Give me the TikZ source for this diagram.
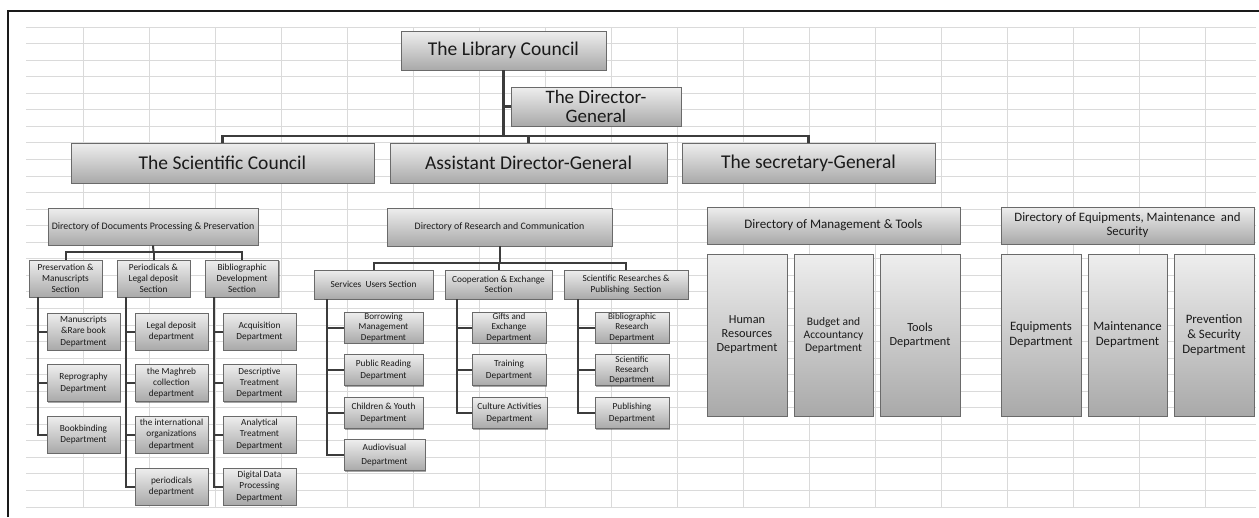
\documentclass[tikz,border=0pt]{standalone}
\usepackage{fontspec}
\setmainfont{Carlito}
\usetikzlibrary{shadows}
\definecolor{boxtop}{HTML}{EEEEEE}
\definecolor{boxbot}{HTML}{A9A9A9}
\definecolor{boxline}{HTML}{6A6A6A}
\definecolor{txt}{HTML}{1A1A1A}
\definecolor{linec}{HTML}{3C3C3C}
\definecolor{gridc}{HTML}{DADADA}
\definecolor{framec}{HTML}{1A1A1A}
\begin{document}
\begin{tikzpicture}[x=1pt,y=-1pt,
  box/.style={draw=boxline, line width=0.7pt, top color=boxtop, bottom color=boxbot,
    align=center, inner sep=0pt, text=txt,
    drop shadow={shadow xshift=1.2pt, shadow yshift=-1.2pt, opacity=0.35, fill=black}},
  bigbox/.style={box, font=\fontsize{19.5}{21}\selectfont},
  smallbox/.style={box, font=\fontsize{9.3}{11.2}\selectfont},
  dirsmall/.style={box, font=\fontsize{9.9}{11.5}\selectfont},
  midbox/.style={box, font=\fontsize{12.3}{14}\selectfont},
  conn/.style={draw=linec, line width=2.4pt},
  conntwo/.style={draw=linec, line width=2pt},
  gridline/.style={draw=gridc, line width=0.8pt},
  topsz/.style={minimum width=#1, minimum height=40},
  secL/.style={minimum width=73, minimum height=37},
  deptL/.style={minimum width=73, minimum height=37},
  secM/.style={minimum width=#1, minimum height=29},
  deptM/.style={minimum width=#1, minimum height=31},
  tall/.style={minimum width=#1, minimum height=162},
  dirbox/.style={minimum width=#1, minimum height=37}]
\useasboundingbox (0,0) rectangle (1259,517);
\fill[white] (0,0) rectangle (1259,517);
% grid
\foreach \k in {0,...,29} \draw[gridline] (26,{27+16.55*\k}) -- (1256,{27+16.55*\k});
\foreach \k in {0,...,17} \draw[gridline] ({83.5+66*\k},27) -- ({83.5+66*\k},507);
% frame
\draw[framec, line width=2.5pt] (8,517) -- (8,11) -- (1259,11);

% top level
\node[bigbox, minimum width=205, minimum height=39] (LC) at (503.5,50.5) {The Library Council};
\node[bigbox, minimum width=170, minimum height=39, font=\fontsize{19}{19.5}\selectfont] (DG) at (596,106.5) {The Director-\\General};
\node[bigbox, topsz=303] (SC) at (222.5,163) {The Scientific Council};
\node[bigbox, topsz=277] (ADG) at (528.5,163) {Assistant Director-General};
\node[bigbox, topsz=253] (SG) at (808.5,163) {The secretary-General};
\coordinate (b0) at (503.5,136);
\draw[conn] (LC.south) -- (b0);
\draw[conn] (DG.west) -- (DG.west -| LC.south);
\draw[conn] (SC.north) |- (b0);
\draw[conn] (ADG.north) |- (b0);
\draw[conn] (SG.north) |- (b0);

% left directory
\node[dirsmall, dirbox=210] (D1) at (153,226.5) {Directory of Documents Processing \& Preservation};
\node[smallbox, secL] (S11) at (65.5,278.5) {Preservation \&\\Manuscripts\\Section};
\node[smallbox, secL] (S12) at (153.5,278.5) {Periodicals \&\\Legal deposit\\Section};
\node[smallbox, secL] (S13) at (242,278.5) {Bibliographic\\Development\\Section};
\coordinate (j1) at (153.5,252);
\draw[conntwo] (D1.south) -- (j1);
\draw[conntwo] (S11.north) |- (j1);
\draw[conntwo] (S12.north) -- (j1);
\draw[conntwo] (S13.north) |- (j1);

\node[smallbox, deptL] (c11) at (83.5,331.5) {Manuscripts\\\&Rare book\\Department};
\node[smallbox, deptL] (c12) at (83.5,383) {Reprography\\Department};
\node[smallbox, deptL] (c13) at (83.5,434.5) {Bookbinding\\Department};
\node[smallbox, deptL] (c21) at (171.5,331.5) {Legal deposit\\department};
\node[smallbox, deptL] (c22) at (171.5,383) {the Maghreb\\collection\\department};
\node[smallbox, deptL] (c23) at (171.5,434.5) {the international\\organizations\\department};
\node[smallbox, deptL] (c24) at (171.5,486.5) {periodicals\\department};
\node[smallbox, deptL] (c31) at (259.5,331.5) {Acquisition\\Department};
\node[smallbox, deptL] (c32) at (259.5,383) {Descriptive\\Treatment\\Department};
\node[smallbox, deptL] (c33) at (259.5,434.5) {Analytical\\Treatment\\Department};
\node[smallbox, deptL] (c34) at (259.5,486.5) {Digital Data\\Processing\\Department};
\coordinate (p1) at (38,297);
\coordinate (p2) at (126,297);
\coordinate (p3) at (214,297);
\foreach \n in {c11,c12,c13} \draw[conntwo] (p1) |- (\n.west);
\foreach \n in {c21,c22,c23,c24} \draw[conntwo] (p2) |- (\n.west);
\foreach \n in {c31,c32,c33,c34} \draw[conntwo] (p3) |- (\n.west);

% middle directory
\node[dirsmall, minimum width=225, minimum height=38] (D2) at (499.5,227) {Directory of Research and Communication};
\node[smallbox, secM=119] (S21) at (373.5,284.5) {Services\ \ Users Section};
\node[smallbox, secM=107, font=\fontsize{9.3}{10.6}\selectfont] (S22) at (498.5,284.5) {Cooperation \& Exchange\\Section};
\node[smallbox, secM=124, font=\fontsize{9.3}{10.6}\selectfont] (S23) at (626,284.5) {Scientific Researches \&\\Publishing\ \ Section};
\coordinate (j2) at (499.5,263);
\draw[conntwo] (D2.south) -- (j2);
\draw[conntwo] (S21.north) |- (j2);
\draw[conntwo] (S22.north) |- (j2);
\draw[conntwo] (S23.north) |- (j2);

\tikzset{mid3/.style={font=\fontsize{9.1}{10.4}\selectfont}}
\node[smallbox, deptM=79, mid3] (m11) at (383.5,327.5) {Borrowing\\Management\\Department};
\node[smallbox, deptM=79] (m12) at (383.5,370) {Public Reading\\Department};
\node[smallbox, deptM=79] (m13) at (383.5,413) {Children \& Youth\\Department};
\node[smallbox, deptM=81] (m14) at (384.5,455) {Audiovisual\\[3pt]Department};
\node[smallbox, deptM=74, mid3] (m21) at (509,327.5) {Gifts and\\Exchange\\Department};
\node[smallbox, deptM=74] (m22) at (509,370) {Training\\Department};
\node[smallbox, deptM=75] (m23) at (509.5,413) {Culture Activities\\Department};
\node[smallbox, deptM=74, mid3] (m31) at (632,327.5) {Bibliographic\\Research\\Department};
\node[smallbox, deptM=74, mid3] (m32) at (632,370) {Scientific\\Research\\Department};
\node[smallbox, deptM=74] (m33) at (632,413) {Publishing\\Department};
\coordinate (q1) at (327,299);
\coordinate (q2) at (457,299);
\coordinate (q3) at (578,299);
\foreach \n in {m11,m12,m13,m14} \draw[conntwo] (q1) |- (\n.west);
\foreach \n in {m21,m22,m23} \draw[conntwo] (q2) |- (\n.west);
\foreach \n in {m31,m32,m33} \draw[conntwo] (q3) |- (\n.west);

% right directories
\node[midbox, dirbox=253, font=\fontsize{13}{14.5}\selectfont] (R0) at (833.5,225.5) {Directory of Management \& Tools};
\node[midbox, tall=80] (R1) at (747,335) {Human\\Resources\\Department};
\node[midbox, tall=79, font=\fontsize{11.5}{13}\selectfont] (R2) at (833.5,335) {Budget and\\Accountancy\\Department};
\node[midbox, tall=80] (R3) at (920,335) {Tools\\Department};
\node[midbox, dirbox=253, font=\fontsize{12.8}{14}\selectfont] (E0) at (1127.5,225.5) {Directory of Equipments, Maintenance\ \ and\\Security};
\node[midbox, tall=80, font=\fontsize{12.8}{15}\selectfont] (E1) at (1041,335) {Equipments\\Department};
\node[midbox, tall=79, font=\fontsize{12.8}{15}\selectfont] (E2) at (1127.5,335) {Maintenance\\Department};
\node[midbox, tall=80, font=\fontsize{12.8}{15}\selectfont] (E3) at (1214,335) {Prevention\\\& Security\\Department};
\end{tikzpicture}
\end{document}
